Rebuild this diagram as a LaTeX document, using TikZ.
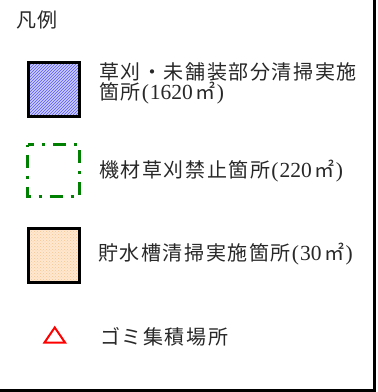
\documentclass[tikz,border=0pt]{standalone}
\usepackage{fontspec}
\usetikzlibrary{patterns}
\newfontfamily\jp{Noto Sans CJK JP}[LetterSpace=8]
\newfontfamily\numf{Liberation Serif}
\newcommand\nm[1]{{\numf\fontsize{21.5}{20}\selectfont\hspace{1pt}(\hspace{1pt}#1\hspace{3pt}}㎡{\numf\fontsize{21.5}{20}\selectfont\hspace{1pt})}}
\definecolor{hatchbg}{RGB}{205,205,255}
\definecolor{hatchfg}{RGB}{85,85,250}
\definecolor{peachbg}{RGB}{255,232,208}
\definecolor{peachfg}{RGB}{250,195,145}
\definecolor{dgreen}{RGB}{0,128,0}
\definecolor{txt}{RGB}{40,40,40}
\tikzset{
  lbl/.style={anchor=base west, inner sep=0pt, font=\fontsize{20}{20}\selectfont\jp, text=txt},
  framebox/.style={draw=black, line width=3pt},
}
\begin{document}
\begin{tikzpicture}[x=1pt,y=-1pt]
\useasboundingbox (0,0) rectangle (378,392);
\fill[white] (0,0) rectangle (378,392);
% frame (right and bottom only)
\coordinate (fr) at (374.5,0);
\coordinate (fc) at (374.5,390.5);
\coordinate (fl) at (0,390.5);
\draw[line width=3pt] (fr) -- (fc) -- (fl);
% title
\node[lbl] (title) at (16,27.5) {凡例};
% blue hatched box
\fill[hatchbg] (28.5,62.5) rectangle (79.5,116.5);
\fill[pattern=north east lines, pattern color=hatchfg] (28.5,62.5) rectangle (79.5,116.5);
\draw[framebox] (28.5,62.5) rectangle (79.5,116.5);
\node[lbl] (t1a) at (99,79.6) {草刈・未舗装部分清掃実施};
\node[lbl] (t1b) at (99,99.6) {箇所\nm{1620}};
% green dash-dot box
\draw[dgreen, line width=3pt, dash pattern=on 13pt off 8pt on 3pt off 8pt, dash phase=-10pt] (27.5,144.5) rectangle (79.5,196.5);
\node[lbl] (t2) at (99,177.6) {機材草刈禁止箇所\nm{220}};
% peach box
\fill[peachbg] (28.5,228.5) rectangle (79.5,282);
\fill[pattern=crosshatch dots, pattern color=peachfg] (28.5,228.5) rectangle (79.5,282);
\draw[framebox] (28.5,228.5) rectangle (79.5,282);
\node[lbl] (t3) at (98,260.5) {貯水槽清掃実施箇所\nm{30}};
% red triangle
\draw[red, line width=2pt, line join=miter] (44.5,342.5) -- (65,342.5) -- (54.75,327.5) -- cycle;
\node[lbl] (t4) at (100,344) {ゴミ集積場所};
\end{tikzpicture}
\end{document}
